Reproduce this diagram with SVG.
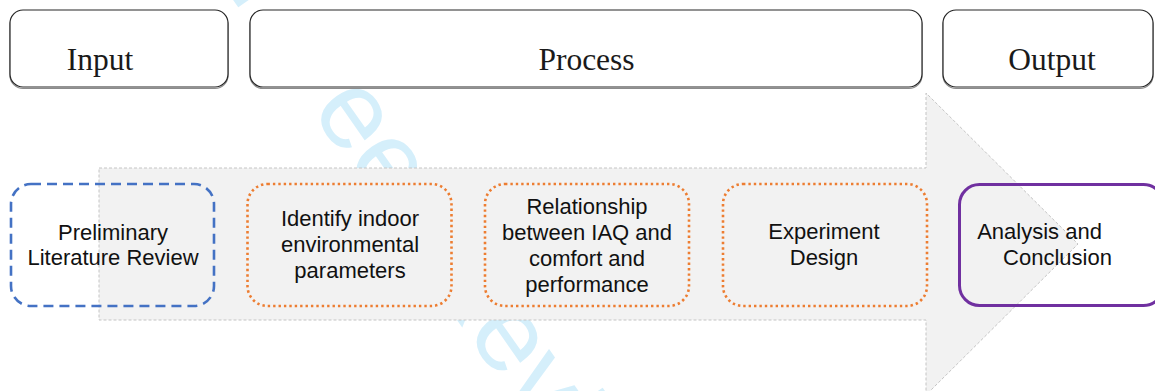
<svg xmlns="http://www.w3.org/2000/svg" width="1155" height="391" viewBox="0 0 1155 391">
  <style>
    .hdr { fill: #ffffff; stroke: #262626; stroke-width: 1.2; }
    .shadow { fill: none; stroke: #8c8c8c; stroke-width: 1.2; }
    .hdrtxt { font-family: "Liberation Serif", "Times New Roman", serif; font-size: 31.5px; fill: #1a1a1a; text-anchor: middle; }
    .txt { font-family: "Liberation Sans", Arial, sans-serif; font-size: 22px; fill: #111111; text-anchor: middle; }
    .step { fill: none; stroke: #ed7d31; stroke-width: 2.6; stroke-dasharray: 2.4 3; }
    .start { fill: none; stroke: #4472c4; stroke-width: 2.6; stroke-dasharray: 10 6; }
    .end { fill: none; stroke: #7030a0; stroke-width: 3; }
    .arrow { fill: #f2f2f2; stroke: #c4c4c4; stroke-width: 1; stroke-dasharray: 3 2; }
    .wm { font-family: "Liberation Sans", Arial, sans-serif; font-size: 111px; fill: #d5effb; }
  </style>

  <rect width="1155" height="391" fill="#ffffff"/>

  <!-- watermark -->
  <text class="wm" transform="translate(154,-113) rotate(55)">For Peer Review</text>

  <!-- background arrow -->
  <g id="arrow">
    <path class="arrow" d="M99,168 H926 V93 L1078,244 L926,395 V320 H99 Z"/>
  </g>

  <!-- header boxes -->
  <g id="input">
    <rect class="shadow" x="10" y="11.5" width="218" height="77" rx="13"/>
    <rect class="hdr" x="10" y="10" width="218" height="77" rx="13"/>
    <text class="hdrtxt" x="100" y="70">Input</text>
  </g>
  <g id="process">
    <rect class="shadow" x="250" y="11.5" width="672" height="77" rx="13"/>
    <rect class="hdr" x="250" y="10" width="672" height="77" rx="13"/>
    <text class="hdrtxt" x="586.5" y="70">Process</text>
  </g>
  <g id="output">
    <rect class="shadow" x="943" y="11.5" width="210" height="77" rx="13"/>
    <rect class="hdr" x="943" y="10" width="210" height="77" rx="13"/>
    <text class="hdrtxt" x="1052" y="70">Output</text>
  </g>

  <!-- step boxes -->
  <g id="preliminary">
    <rect class="start" x="11" y="184" width="203" height="122" rx="20"/>
    <text class="txt" x="113" y="239.5">Preliminary</text>
    <text class="txt" x="113" y="264.5">Literature Review</text>
  </g>
  <g id="identify">
    <rect class="step" x="247.5" y="184" width="204" height="122" rx="20"/>
    <text class="txt" x="350" y="226">Identify indoor</text>
    <text class="txt" x="350" y="252">environmental</text>
    <text class="txt" x="350" y="278">parameters</text>
  </g>
  <g id="relationship">
    <rect class="step" x="485" y="184" width="204" height="122" rx="20"/>
    <text class="txt" x="587" y="213.5">Relationship</text>
    <text class="txt" x="587" y="239.5">between IAQ and</text>
    <text class="txt" x="587" y="265.5">comfort and</text>
    <text class="txt" x="587" y="292">performance</text>
  </g>
  <g id="experiment">
    <rect class="step" x="723" y="184" width="204" height="122" rx="20"/>
    <text class="txt" x="824" y="239">Experiment</text>
    <text class="txt" x="824" y="264.5">Design</text>
  </g>
  <g id="analysis">
    <rect class="end" x="959.5" y="184.5" width="204" height="121" rx="20"/>
    <text class="txt" x="1039.5" y="239">Analysis and</text>
    <text class="txt" x="1057.5" y="264.5">Conclusion</text>
  </g>

  <g id="connectors"></g>
</svg>
